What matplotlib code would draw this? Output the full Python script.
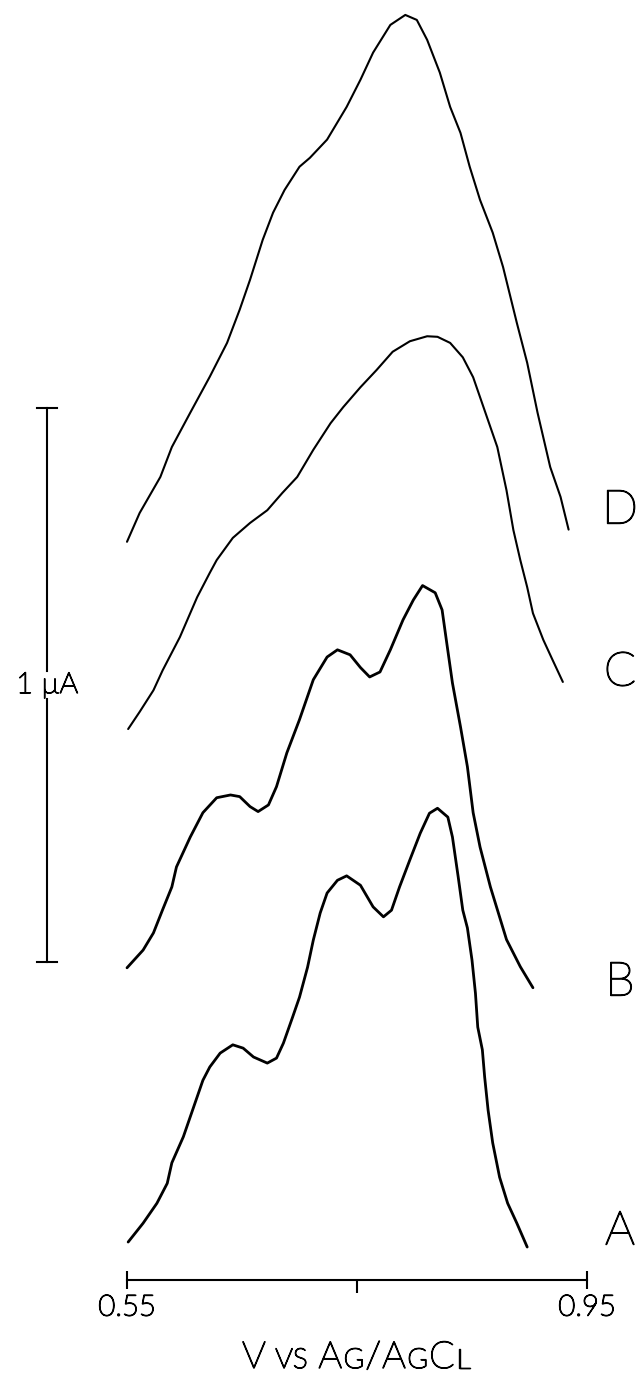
import matplotlib
matplotlib.use('Agg')
import matplotlib.pyplot as plt
import matplotlib.patheffects as pe

# --- du lieu doc tu hinh (V vs Ag/AgCl, dong tinh bang uA, tinh tu diem dau moi duong) ---
volt_a = [0.551, 0.564, 0.576, 0.585, 0.589, 0.599, 0.607, 0.616, 0.622, 0.631,
          0.642, 0.651, 0.660, 0.672, 0.680, 0.686, 0.694, 0.700, 0.707, 0.712,
          0.718, 0.724, 0.733, 0.741, 0.753, 0.764, 0.773, 0.780, 0.787, 0.796,
          0.805, 0.813, 0.820, 0.829, 0.833, 0.838, 0.842, 0.846, 0.850, 0.853,
          0.855, 0.859, 0.861, 0.864, 0.868, 0.874, 0.881, 0.889, 0.898]
curr_a = [0.000, 0.034, 0.070, 0.106, 0.143, 0.190, 0.238, 0.292, 0.316, 0.341,
          0.356, 0.350, 0.334, 0.323, 0.332, 0.359, 0.406, 0.442, 0.496, 0.545,
          0.594, 0.630, 0.653, 0.661, 0.644, 0.605, 0.587, 0.599, 0.641, 0.690,
          0.738, 0.774, 0.783, 0.767, 0.731, 0.659, 0.599, 0.567, 0.509, 0.449,
          0.388, 0.347, 0.298, 0.238, 0.179, 0.117, 0.070, 0.034, -0.009]

volt_b = [0.550, 0.564, 0.573, 0.581, 0.589, 0.593, 0.605, 0.616, 0.628, 0.640,
          0.648, 0.657, 0.664, 0.673, 0.680, 0.689, 0.700, 0.712, 0.724, 0.733,
          0.744, 0.753, 0.761, 0.770, 0.779, 0.790, 0.799, 0.807, 0.818, 0.824,
          0.828, 0.833, 0.840, 0.846, 0.851, 0.857, 0.866, 0.880, 0.892, 0.903]
curr_b = [0.000, 0.032, 0.063, 0.105, 0.146, 0.182, 0.236, 0.280, 0.307, 0.312,
          0.309, 0.291, 0.282, 0.294, 0.327, 0.388, 0.448, 0.520, 0.561, 0.574,
          0.565, 0.542, 0.525, 0.534, 0.574, 0.628, 0.664, 0.690, 0.677, 0.646,
          0.587, 0.514, 0.435, 0.363, 0.280, 0.218, 0.146, 0.051, 0.002, -0.036]

volt_c = [0.551, 0.561, 0.573, 0.581, 0.596, 0.611, 0.622, 0.628, 0.642, 0.657,
          0.672, 0.685, 0.698, 0.712, 0.727, 0.738, 0.753, 0.767, 0.781, 0.796,
          0.811, 0.820, 0.831, 0.842, 0.851, 0.863, 0.872, 0.880, 0.886, 0.892,
          0.898, 0.903, 0.912, 0.920, 0.929]
curr_c = [0.000, 0.031, 0.070, 0.106, 0.166, 0.238, 0.282, 0.305, 0.345, 0.372,
          0.395, 0.426, 0.455, 0.504, 0.552, 0.581, 0.617, 0.648, 0.681, 0.700,
          0.709, 0.708, 0.697, 0.671, 0.635, 0.563, 0.509, 0.431, 0.359, 0.305,
          0.256, 0.209, 0.161, 0.125, 0.085]

volt_d = [0.550, 0.561, 0.579, 0.589, 0.605, 0.622, 0.637, 0.648, 0.657, 0.668,
          0.677, 0.687, 0.700, 0.709, 0.724, 0.741, 0.753, 0.764, 0.779, 0.792,
          0.802, 0.811, 0.822, 0.831, 0.840, 0.848, 0.857, 0.868, 0.877, 0.889,
          0.898, 0.907, 0.918, 0.927, 0.934]
curr_d = [0.000, 0.052, 0.117, 0.171, 0.233, 0.298, 0.359, 0.419, 0.473, 0.545,
          0.594, 0.635, 0.677, 0.693, 0.726, 0.785, 0.834, 0.883, 0.933, 0.951,
          0.942, 0.906, 0.847, 0.785, 0.738, 0.677, 0.617, 0.558, 0.496, 0.395,
          0.323, 0.233, 0.135, 0.081, 0.022]

trace_names = ['A', 'B', 'C', 'D']
x_ticks = [0.55, 0.95]
x_tick_labels = ['0.55', '0.95']
scale_ua = 1.0

# --- bo cuc (vi tri, khong phai du lieu) ---
W, H = 638, 1375
PX_PER_V = 1150.0
PX_PER_UA = 554.0
offsets = {'A': 0.240, 'B': 0.735, 'C': 1.166, 'D': 1.504}
lws = {'A': 2.0, 'B': 2.0, 'C': 1.5, 'D': 1.5}
label_y_px = {'A': 1232, 'B': 983, 'C': 673, 'D': 511}

plt.rcParams['font.family'] = ['Lato', 'DejaVu Sans']
plt.rcParams['font.weight'] = 'light'
# chu kieu ke chi (Leroy): nen chu manh + vien den deu net
pen = [pe.withStroke(linewidth=1.0, foreground='black')]

fig = plt.figure(figsize=(W / 100, H / 100), dpi=100)
ax = fig.add_axes([0, 0, 1, 1])
ax.set_xlim(0.55 - 127 / PX_PER_V, 0.55 + (W - 127) / PX_PER_V)
ax.set_ylim(0, H / PX_PER_UA)
ax.patch.set_visible(False)

# cac duong
data = {'A': (volt_a, curr_a), 'B': (volt_b, curr_b),
        'C': (volt_c, curr_c), 'D': (volt_d, curr_d)}
for name in trace_names:
    v, i = data[name]
    ax.plot(v, [c + offsets[name] for c in i], color='black', lw=lws[name],
            solid_joinstyle='round', solid_capstyle='round')
    fig.text(620 / W, 1 - label_y_px[name] / H, name, fontsize=34,
             ha='center', va='center', color='black', path_effects=pen)

# truc hoanh tu ve
axis_y = (H - 1280) / PX_PER_UA
for s in ['left', 'right', 'top']:
    ax.spines[s].set_visible(False)
ax.spines['bottom'].set_position(('data', axis_y))
ax.spines['bottom'].set_bounds(x_ticks[0], x_ticks[-1])
ax.spines['bottom'].set_linewidth(1.5)
ax.set_yticks([])
ax.set_xticks(x_ticks)
ax.set_xticklabels(x_tick_labels)
ax.set_xticks([0.75], minor=True)
ax.tick_params(which='major', direction='inout', length=13, width=1.5,
               pad=4, labelsize=21)
ax.tick_params(which='minor', direction='out', length=9, width=1.5)
for lab in ax.get_xticklabels():
    lab.set_path_effects(pen)

# thanh ty le 1 uA
sb_x = 0.55 + (47 - 127) / PX_PER_V
sb_top = (H - 408) / PX_PER_UA
sb_bot = sb_top - scale_ua
sb_mid = (sb_top + sb_bot) / 2
gap = 14 / PX_PER_UA
cap = 10 / PX_PER_V
ax.plot([sb_x, sb_x], [sb_top, sb_mid + gap], color='black', lw=1.5)
ax.plot([sb_x, sb_x], [sb_mid - gap, sb_bot], color='black', lw=1.5)
ax.plot([sb_x - cap, sb_x + cap], [sb_top, sb_top], color='black', lw=1.5)
ax.plot([sb_x - cap, sb_x + cap], [sb_bot, sb_bot], color='black', lw=1.5)
ax.text(sb_x, sb_mid, '1 µA', fontsize=21, ha='center', va='center',
        path_effects=pen)

# nhan truc dang small caps: V vs Ag/AgCl
renderer = fig.canvas.get_renderer()
pieces = [('V', 27), (' VS ', 20), ('A', 27), ('G', 20), ('/', 27),
          ('A', 27), ('G', 20), ('C', 27), ('L', 20)]
x_px = 242.0
base = 1 - 1368 / H
for s, fs in pieces:
    t = fig.text(x_px / W, base, s, fontsize=fs, ha='left', va='baseline',
                 path_effects=pen)
    x_px += t.get_window_extent(renderer).width * 1.06

fig.savefig('out.png', dpi=100, facecolor='white')
